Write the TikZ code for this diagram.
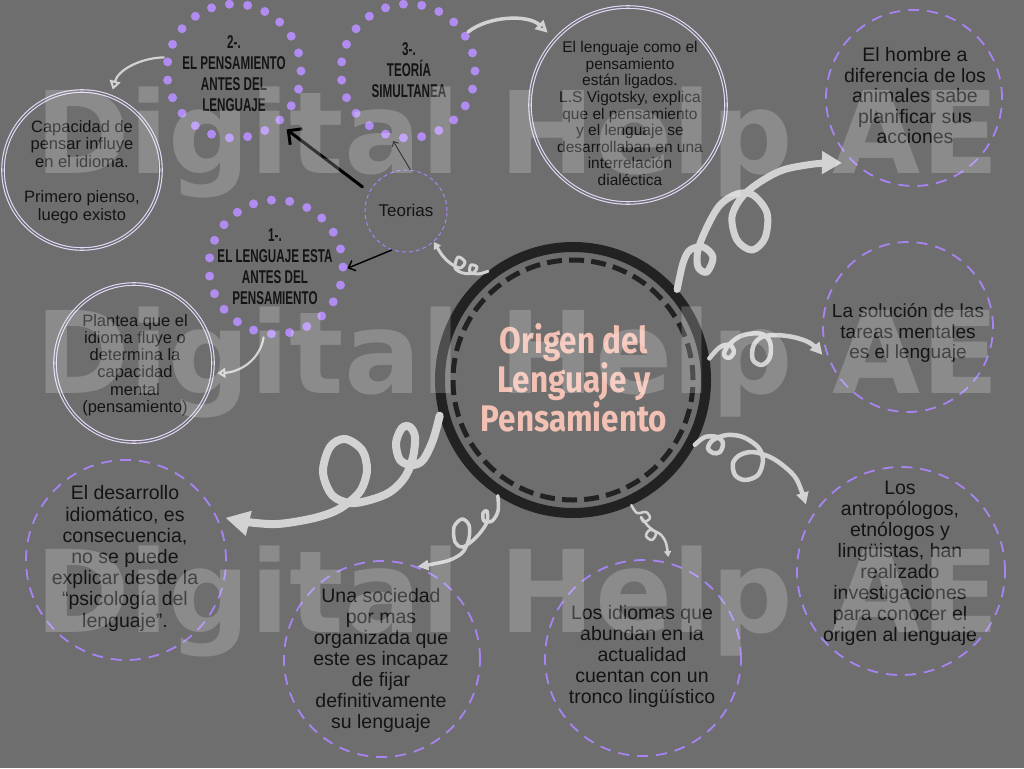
\documentclass[tikz,border=0pt]{standalone}
\usepackage{fontspec}
\setmainfont{Liberation Sans}
\newfontfamily\condf{Liberation Sans}[FakeStretch=0.63]
\newfontfamily\titlef{Fira Sans}[FakeStretch=0.85]
\newfontfamily\wmf{DejaVu Sans}
\usetikzlibrary{arrows.meta,calc}
\definecolor{bgc}{HTML}{6E6E6E}
\definecolor{ringc}{HTML}{222222}
\definecolor{dotc}{HTML}{B18CF0}
\definecolor{dashc}{HTML}{A784F2}
\definecolor{lav}{HTML}{E6DAFB}
\definecolor{curlc}{HTML}{D2D2D2}
\definecolor{txt}{HTML}{141414}
\definecolor{pinkt}{HTML}{F3C1B4}
\tikzset{
  ringnode/.style={circle, draw=ringc, line width=10pt, minimum size=266pt, inner sep=0pt},
  dotnode/.style={circle, draw=dotc, line width=9pt, line cap=round, dash pattern=on 0pt off 18.303pt, minimum size=134pt, inner sep=0pt},
  dashnode/.style={circle, draw=dashc, line width=1.8pt, dash pattern=on 11pt off 8pt, minimum size=#1, inner sep=0pt},
  dblnode/.style={circle, draw=lav, line width=1.1pt, double=bgc, double distance=1.4pt, minimum size=#1, inner sep=0pt},
  bodytext/.style 2 args={text=txt, align=center, inner sep=0pt, font=\fontsize{#1}{#2}\selectfont},
  numtext/.style={text=txt, align=center, inner sep=0pt, font=\condf\bfseries\fontsize{18.5}{21}\selectfont},
  titletext/.style={text=pinkt, align=center, inner sep=0pt, font=\titlef\bfseries\fontsize{37}{37}\selectfont},
  wmtext/.style={text=white, opacity=0.2, inner sep=0pt, anchor=base west, font=\wmf\bfseries\fontsize{114}{114}\selectfont},
  curly/.style={draw=curlc, line width=#1, line cap=round, line join=round},
  otip/.style n args={3}{-{Triangle[open,length=#1,width=#2,line width=#3]}},
  blk/.style={draw=black, line width=#1, line cap=round},
}
\begin{document}
\begin{tikzpicture}[x=1pt,y=-1pt]
\useasboundingbox (0,0) rectangle (1024,768);
\fill[bgc] (0,0) rectangle (1024,768);

% central node
\node[ringnode] (centro) at (573,380) {};
\draw[draw=ringc, line width=5pt, dash pattern=on 15pt off 7.18pt] (centro.center) circle[radius=120pt];
\node[titletext] (titulo) at (574,378) {Origen del\\Lenguaje y\\Pensamiento};

% theory circles
\node[dotnode] (dos) at (234,71) {};
\node[dotnode] (tres) at (408,71) {};
\node[dotnode] (uno) at (276,267) {};
\node[numtext] (tdos) at (234,73.5) {2-.\\EL PENSAMIENTO\\ANTES DEL\\LENGUAJE};
\node[numtext] (ttres) at (409,70) {3-.\\TEORÍA\\SIMULTANEA};
\node[numtext] (tuno) at (275,266.5) {1-.\\EL LENGUAJE ESTA\\ANTES DEL\\PENSAMIENTO};

\node[circle, draw=dashc, line width=1pt, dash pattern=on 4pt off 3pt, minimum size=82pt, inner sep=0pt] (teorias) at (406,211) {};
\node[bodytext={17}{18}] (tteorias) at (406,210) {Teorias};

% double circles
\node[dblnode=158pt, outer sep=7pt] (capacidad) at (82,170) {};
\node[dblnode=158pt, outer sep=5pt] (plantea) at (134,363) {};
\node[dblnode=196pt, outer sep=10pt] (lenguaje) at (628,105) {};
\node[bodytext={16.5}{17.6}] (tcapacidad) at (82,172) {Capacidad de\\pensar influye\\en el idioma.\\[17.6pt]Primero pienso,\\luego existo};
\node[bodytext={16.5}{17.2}] (tplantea) at (135,365) {Plantea que el\\idioma fluye o\\determina la\\capacidad\\mental\\(pensamiento)};
\node[bodytext={15.5}{16.6}] (tlenguaje) at (630,113.5) {El lenguaje como el\\pensamiento\\están ligados.\\L.S Vigotsky, explica\\que el pensamiento\\y el lenguaje se\\desarrollaban en una\\interrelación\\dialéctica};

% dashed circles
\node[dashnode=176pt, outer sep=9pt] (hombre) at (914,98) {};
\node[dashnode=170pt, outer sep=5pt] (solucion) at (908,327) {};
\node[dashnode=208pt, outer sep=12pt] (antro) at (901,571) {};
\node[dashnode=196pt, outer sep=6pt] (idiomas) at (643,658) {};
\node[dashnode=196pt] (sociedad) at (382,659) {};
\node[dashnode=200pt, outer sep=8pt] (desarrollo) at (126,560) {};

\node[bodytext={19.5}{20.5}] (thombre) at (915,96) {El hombre a\\diferencia de los\\animales  sabe\\planificar sus\\acciones};
\node[bodytext={19}{20.5}] (tsolucion) at (908,333) {La solución de las\\tareas mentales\\es el lenguaje};
\node[bodytext={19.5}{21}] (tantro) at (900,563.5) {Los\\antropólogos,\\etnólogos y\\lingüistas, han\\realizado\\investigaciones\\para conocer el\\origen al lenguaje};
\node[bodytext={19.5}{20.8}] (tidiomas) at (642,656.5) {Los idiomas que\\abundan en la\\actualidad\\cuentan con un\\tronco lingüístico};
\node[bodytext={19.5}{21}] (tsociedad) at (381,660) {Una sociedad\\por mas\\organizada que\\este es incapaz\\de fijar\\definitivamente\\su lenguaje};
\node[bodytext={19.5}{21.2}] (tdesarrollo) at (125,558.5) {El desarrollo\\idiomático, es\\consecuencia,\\no se puede\\explicar desde la\\“psicología del\\lenguaje”.};

% black connectors from Teorias
\draw[blk=3pt, -{Straight Barb[length=10pt,width=20pt]}] ($(teorias.center)!1.2!(teorias.151)$) -- ($(dos.center)!1.1!(dos.-48)$);
\draw[blk=0.9pt, -{Straight Barb[length=4pt,width=7pt]}] (teorias.84) -- (tres.-102);
\draw[blk=1.4pt, -{Straight Barb[length=6pt,width=11pt]}] (teorias.-110) -- (uno.-1);

% light connectors between theories and explanations
\draw[curly=2.2pt, otip={9pt}{11pt}{2pt}] (dos.169) .. controls (140,58) and (118,70) .. (capacidad.69);
\draw[curly=3.5pt, otip={12pt}{12pt}{3pt}] (tres.33) .. controls (488,16) and (528,14) .. (lenguaje.138);
\draw[curly=2.2pt, otip={8pt}{10pt}{2pt}] (uno.-100) .. controls (260,360) and (240,372) .. (plantea.-7.5);

% curly connectors from the centre
\draw[curly=7pt, otip={20pt}{22pt}{5pt}] plot[smooth, tension=0.55] coordinates {(centro.41) (683,263) (690,250) (703,247) (713,257) (707,272) (698,267) (698,250) (707,227) (720,205) (737,194) (753,195) (767,213) (765,238) (752,250) (737,240) (732,217) (742,197) (760,182) (783,170) (810,164.5) (828,163) (hombre.222)};
\draw[curly=4.5pt, otip={12pt}{12pt}{3pt}] plot[smooth, tension=0.55] coordinates {(centro.9) (720,347) (730,345) (734,352) (729,358) (724,355) (727,347) (737,338) (748,334) (762,334) (770,342) (770,357) (762,365) (753,360) (753,347) (760,338) (773,335) (793,337) (810,343) (solucion.198)};
\draw[curly=4.5pt, otip={12pt}{12pt}{3pt}] plot[smooth, tension=0.55] coordinates {(centro.-28) (705,437) (717,437) (723,443) (720,452) (713,453) (708,448) (713,440) (727,435) (743,437) (758,447) (763,460) (758,475) (745,480) (735,475) (733,463) (740,455) (753,452) (770,457) (785,467) (797,480) (antro.145)};
\draw[curly=2.5pt, otip={6pt}{7pt}{1.6pt}] plot[smooth, tension=0.55] coordinates {(centro.-65) (637,513) (646,512) (650,518) (644,522) (641,517) (648,526) (656,533) (652,540) (646,536) (650,530) (660,534) (666,543) (idiomas.76)};
\draw[curly=3.5pt, otip={11pt}{10pt}{2.5pt}] plot[smooth, tension=0.55] coordinates {(centro.-123) (498,511) (492,521) (484,521) (483,513) (487,511) (487,522) (480,533) (471,542) (462,547) (455,542) (454,527) (462,519) (469,525) (469,538) (463,552) (450,560) (433,564) (425,565.5) (sociedad.69)};
\draw[curly=8pt, otip={24pt}{24pt}{6pt}] plot[smooth, tension=0.55] coordinates {(centro.-165) (433,440) (423,460) (412,465) (400,460) (396,443) (402,428) (410,427) (415,437) (413,457) (405,477) (390,492) (370,500) (350,503) (332,495) (323,472) (330,447) (345,439) (362,450) (367,470) (361,490) (348,503) (333,512) (310,519) (277,524) (247,522) (desarrollo.23.5)};
\draw[curly=3pt, otip={7pt}{8pt}{1.8pt}] plot[smooth, tension=0.55] coordinates {(centro.128) (478,274) (470,272) (471,265) (477,267) (473,273) (463,273) (455,268) (458,257) (465,262) (460,268) (450,263) (442,255) (437,247) (teorias.-48)};

% watermark
\node[wmtext] (wm1) at (35,173) {Digital Help AE};
\node[wmtext] (wm2) at (35,393) {Digital Help AE};
\node[wmtext] (wm3) at (35,632) {Digital Help AE};
\end{tikzpicture}
\end{document}
